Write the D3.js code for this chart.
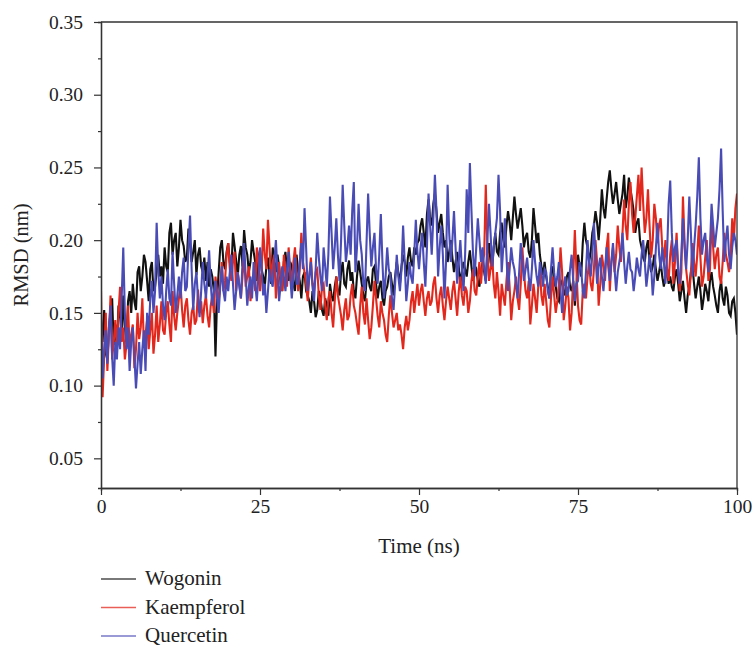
<!DOCTYPE html>
<html>
<head>
<meta charset="utf-8">
<script src="https://cdn.jsdelivr.net/npm/d3@7"></script>
<style>
	body { margin: 0; background: #fff; }
	text { font-family: "Liberation Serif", "Times New Roman", serif; fill: #222; }
</style>
</head>
<body>
<div id="chart"></div>
<script>

// time axis: 0 .. 100 ns, one value every 0.25 ns
var timeStep = 0.25;

var seriesNames = ["Wogonin", "Kaempferol", "Quercetin"];
var seriesColors = ["#111111", "#e2281d", "#4a4cb6"];

var wogonin = [
	0.145,0.130,0.152,0.122,0.118,0.140,0.150,0.160,0.128,0.142,
	0.125,0.155,0.148,0.135,0.162,0.140,0.130,0.158,0.165,0.150,
	0.170,0.158,0.152,0.178,0.182,0.165,0.175,0.190,0.185,0.172,
	0.158,0.180,0.185,0.165,0.168,0.178,0.190,0.175,0.182,0.170,
	// 10 ns
	0.195,0.182,0.178,0.205,0.212,0.190,0.200,0.205,0.182,0.195,
	0.214,0.200,0.196,0.185,0.188,0.208,0.198,0.185,0.192,0.200,
	0.176,0.190,0.195,0.182,0.178,0.188,0.172,0.185,0.168,0.180,
	0.175,0.165,0.120,0.160,0.178,0.195,0.200,0.185,0.180,0.192,
	// 20 ns
	0.198,0.185,0.180,0.205,0.196,0.186,0.175,0.190,0.196,0.182,
	0.207,0.195,0.190,0.178,0.185,0.200,0.192,0.185,0.172,0.188,
	0.193,0.180,0.175,0.168,0.182,0.188,0.175,0.170,0.195,0.185,
	0.178,0.190,0.182,0.170,0.165,0.185,0.192,0.178,0.172,0.185,
	// 30 ns
	0.182,0.170,0.165,0.190,0.178,0.172,0.160,0.175,0.178,0.165,
	0.162,0.158,0.150,0.165,0.158,0.147,0.152,0.165,0.160,0.152,
	0.148,0.160,0.155,0.148,0.170,0.162,0.158,0.168,0.175,0.165,
	0.162,0.178,0.185,0.170,0.168,0.180,0.186,0.172,0.178,0.165,
	// 40 ns
	0.160,0.175,0.186,0.178,0.170,0.162,0.158,0.172,0.175,0.168,
	0.165,0.180,0.182,0.170,0.160,0.168,0.172,0.160,0.155,0.165,
	0.168,0.175,0.178,0.170,0.162,0.175,0.185,0.178,0.170,0.182,
	0.190,0.185,0.175,0.188,0.195,0.185,0.182,0.195,0.190,0.198,
	// 50 ns
	0.200,0.210,0.215,0.205,0.195,0.218,0.228,0.215,0.210,0.225,
	0.232,0.220,0.205,0.212,0.218,0.205,0.195,0.200,0.185,0.192,
	0.200,0.188,0.178,0.185,0.192,0.182,0.170,0.178,0.185,0.180,
	0.175,0.185,0.193,0.182,0.172,0.178,0.180,0.172,0.168,0.178,
	// 60 ns
	0.185,0.178,0.172,0.190,0.198,0.185,0.180,0.195,0.205,0.192,
	0.190,0.205,0.212,0.200,0.195,0.210,0.220,0.212,0.200,0.215,
	0.230,0.218,0.208,0.215,0.222,0.210,0.195,0.202,0.205,0.192,
	0.188,0.200,0.222,0.210,0.198,0.205,0.190,0.182,0.176,0.185,
	// 70 ns
	0.175,0.168,0.160,0.178,0.182,0.170,0.168,0.160,0.158,0.170,
	0.172,0.165,0.162,0.175,0.178,0.168,0.165,0.172,0.155,0.168,
	0.190,0.182,0.175,0.198,0.212,0.200,0.195,0.185,0.192,0.205,
	0.210,0.220,0.212,0.200,0.215,0.235,0.222,0.215,0.228,0.240,
	// 80 ns
	0.248,0.235,0.225,0.232,0.240,0.228,0.218,0.225,0.232,0.245,
	0.222,0.230,0.243,0.235,0.228,0.220,0.205,0.212,0.215,0.200,
	0.195,0.188,0.185,0.195,0.200,0.185,0.178,0.182,0.190,0.180,
	0.172,0.178,0.185,0.175,0.168,0.175,0.180,0.170,0.175,0.168,
	// 90 ns
	0.165,0.175,0.180,0.170,0.158,0.165,0.172,0.160,0.150,0.162,
	0.168,0.178,0.182,0.170,0.160,0.168,0.175,0.165,0.152,0.160,
	0.170,0.165,0.158,0.172,0.178,0.168,0.162,0.155,0.150,0.165,
	0.172,0.160,0.155,0.168,0.162,0.150,0.148,0.158,0.160,0.150,
	0.135
];

var kaempferol = [
	0.165,0.092,0.120,0.150,0.110,0.135,0.162,0.118,0.130,0.145,
	0.125,0.150,0.168,0.130,0.140,0.118,0.128,0.155,0.125,0.135,
	0.142,0.112,0.125,0.150,0.132,0.140,0.160,0.128,0.135,0.145,
	0.125,0.138,0.150,0.122,0.135,0.155,0.130,0.142,0.158,0.138,
	// 10 ns
	0.135,0.150,0.158,0.142,0.130,0.165,0.148,0.138,0.150,0.160,
	0.170,0.152,0.140,0.155,0.160,0.145,0.135,0.150,0.155,0.142,
	0.145,0.166,0.150,0.158,0.143,0.155,0.162,0.148,0.140,0.155,
	0.162,0.150,0.175,0.165,0.158,0.170,0.185,0.165,0.172,0.190,
	// 20 ns
	0.198,0.180,0.172,0.185,0.192,0.165,0.178,0.170,0.160,0.175,
	0.190,0.168,0.175,0.182,0.158,0.170,0.175,0.165,0.195,0.185,
	0.165,0.178,0.208,0.190,0.180,0.214,0.195,0.172,0.185,0.190,
	0.160,0.175,0.185,0.170,0.165,0.190,0.178,0.168,0.195,0.180,
	// 30 ns
	0.170,0.185,0.195,0.178,0.165,0.180,0.205,0.185,0.178,0.170,
	0.158,0.175,0.188,0.170,0.165,0.178,0.180,0.162,0.152,0.168,
	0.170,0.155,0.145,0.160,0.165,0.150,0.140,0.158,0.175,0.162,
	0.155,0.148,0.138,0.152,0.160,0.145,0.148,0.162,0.170,0.155,
	// 40 ns
	0.150,0.142,0.135,0.155,0.168,0.150,0.142,0.160,0.145,0.132,
	0.140,0.155,0.172,0.160,0.148,0.140,0.158,0.150,0.145,0.135,
	0.130,0.148,0.162,0.150,0.140,0.145,0.150,0.138,0.142,0.135,
	0.125,0.140,0.148,0.138,0.145,0.158,0.165,0.150,0.160,0.170,
	// 50 ns
	0.155,0.165,0.170,0.158,0.148,0.160,0.165,0.155,0.158,0.170,
	0.175,0.160,0.150,0.162,0.168,0.155,0.145,0.158,0.168,0.160,
	0.152,0.165,0.172,0.160,0.148,0.165,0.175,0.162,0.155,0.168,
	0.165,0.150,0.158,0.172,0.180,0.165,0.162,0.175,0.185,0.170,
	// 60 ns
	0.185,0.190,0.238,0.195,0.172,0.180,0.190,0.170,0.160,0.178,
	0.165,0.148,0.170,0.162,0.155,0.172,0.185,0.168,0.145,0.158,
	0.165,0.175,0.160,0.152,0.170,0.195,0.178,0.165,0.160,0.172,
	0.142,0.155,0.170,0.160,0.150,0.168,0.180,0.162,0.155,0.170,
	// 70 ns
	0.158,0.145,0.140,0.160,0.175,0.162,0.150,0.158,0.170,0.195,
	0.178,0.145,0.155,0.168,0.160,0.138,0.150,0.175,0.207,0.180,
	0.155,0.145,0.142,0.165,0.170,0.160,0.175,0.185,0.170,0.165,
	0.180,0.200,0.185,0.155,0.170,0.190,0.182,0.172,0.195,0.205,
	// 80 ns
	0.165,0.185,0.195,0.178,0.190,0.210,0.195,0.185,0.205,0.228,
	0.210,0.200,0.225,0.240,0.218,0.205,0.215,0.230,0.245,0.220,
	0.250,0.225,0.205,0.215,0.235,0.210,0.188,0.200,0.225,0.215,
	0.198,0.210,0.215,0.195,0.185,0.200,0.180,0.172,0.190,0.200,
	// 90 ns
	0.170,0.185,0.205,0.180,0.165,0.178,0.230,0.200,0.180,0.170,
	0.162,0.178,0.198,0.185,0.175,0.190,0.210,0.188,0.168,0.175,
	0.188,0.200,0.172,0.180,0.215,0.195,0.180,0.190,0.195,0.175,
	0.170,0.185,0.205,0.190,0.185,0.178,0.190,0.215,0.200,0.222,
	0.232
];

var quercetin = [
	0.150,0.105,0.125,0.138,0.115,0.140,0.155,0.120,0.100,0.130,
	0.118,0.140,0.125,0.160,0.195,0.150,0.125,0.140,0.110,0.130,
	0.140,0.120,0.098,0.115,0.130,0.108,0.125,0.138,0.110,0.150,
	0.135,0.160,0.172,0.150,0.165,0.212,0.180,0.160,0.175,0.155,
	// 10 ns
	0.145,0.165,0.180,0.160,0.155,0.192,0.170,0.150,0.162,0.175,
	0.160,0.178,0.188,0.165,0.168,0.195,0.217,0.180,0.152,0.170,
	0.178,0.160,0.147,0.165,0.185,0.170,0.160,0.175,0.193,0.170,
	0.155,0.165,0.172,0.160,0.150,0.168,0.182,0.165,0.158,0.175,
	// 20 ns
	0.165,0.178,0.190,0.170,0.152,0.165,0.178,0.168,0.160,0.185,
	0.198,0.175,0.155,0.168,0.175,0.160,0.185,0.170,0.158,0.175,
	0.195,0.180,0.162,0.170,0.150,0.165,0.180,0.172,0.168,0.185,
	0.200,0.178,0.158,0.170,0.182,0.175,0.165,0.180,0.192,0.175,
	// 30 ns
	0.160,0.175,0.188,0.170,0.170,0.185,0.198,0.180,0.222,0.195,
	0.165,0.175,0.185,0.168,0.158,0.180,0.205,0.188,0.175,0.165,
	0.195,0.182,0.168,0.190,0.230,0.205,0.180,0.195,0.215,0.190,
	0.172,0.200,0.238,0.210,0.185,0.195,0.210,0.190,0.220,0.240,
	// 40 ns
	0.178,0.195,0.225,0.200,0.190,0.170,0.165,0.198,0.232,0.205,
	0.182,0.195,0.205,0.180,0.170,0.190,0.218,0.185,0.160,0.175,
	0.195,0.180,0.175,0.160,0.152,0.170,0.190,0.175,0.165,0.180,
	0.210,0.185,0.158,0.170,0.185,0.175,0.170,0.190,0.214,0.192,
	// 50 ns
	0.180,0.195,0.205,0.185,0.168,0.195,0.232,0.210,0.190,0.215,
	0.245,0.220,0.175,0.195,0.210,0.190,0.160,0.185,0.238,0.205,
	0.185,0.200,0.220,0.195,0.170,0.185,0.200,0.180,0.165,0.190,
	0.235,0.205,0.253,0.220,0.190,0.175,0.195,0.215,0.200,0.185,
	// 60 ns
	0.195,0.180,0.170,0.200,0.225,0.205,0.182,0.195,0.205,0.215,
	0.245,0.220,0.178,0.195,0.215,0.190,0.165,0.180,0.195,0.185,
	0.180,0.170,0.160,0.178,0.198,0.185,0.172,0.180,0.188,0.175,
	0.165,0.180,0.200,0.185,0.175,0.168,0.185,0.178,0.168,0.180,
	// 70 ns
	0.178,0.165,0.160,0.180,0.195,0.178,0.168,0.175,0.185,0.165,
	0.150,0.168,0.175,0.162,0.165,0.180,0.190,0.172,0.158,0.170,
	0.172,0.185,0.180,0.165,0.160,0.178,0.200,0.185,0.175,0.190,
	0.212,0.190,0.170,0.182,0.188,0.175,0.165,0.180,0.195,0.182,
	// 80 ns
	0.172,0.185,0.198,0.180,0.165,0.178,0.185,0.192,0.205,0.185,
	0.170,0.182,0.192,0.180,0.178,0.165,0.175,0.188,0.180,0.175,
	0.190,0.200,0.185,0.168,0.178,0.190,0.182,0.162,0.175,0.195,
	0.212,0.190,0.180,0.195,0.185,0.170,0.190,0.225,0.241,0.205,
	// 90 ns
	0.185,0.195,0.200,0.178,0.170,0.190,0.215,0.195,0.180,0.200,
	0.230,0.205,0.175,0.195,0.210,0.230,0.257,0.215,0.190,0.200,
	0.205,0.188,0.178,0.195,0.225,0.210,0.195,0.205,0.215,0.235,
	0.263,0.220,0.185,0.200,0.210,0.190,0.180,0.195,0.205,0.200,
	0.190
];

var yTicks = [0.05, 0.10, 0.15, 0.20, 0.25, 0.30, 0.35];
var yMinor = [0.075, 0.125, 0.175, 0.225, 0.275, 0.325];
var xTicks = [0, 25, 50, 75, 100];
var xMinor = [12.5, 37.5, 62.5, 87.5];

var margin = {top: 22, right: 16, bottom: 158, left: 101};
var width = 753 - margin.left - margin.right;
var height = 646 - margin.top - margin.bottom;

var svg = d3.select("#chart").append("svg")
	.attr("width", 753)
	.attr("height", 646);

var g = svg.append("g")
	.attr("transform", "translate(" + margin.left + "," + margin.top + ")");

var x = d3.scaleLinear().domain([0, 100]).range([0, width]);
var y = d3.scaleLinear().domain([0.0296, 0.35]).range([height, 0]);

var line = d3.line()
	.x(function(d, i) { return x(i * timeStep); })
	.y(function(d) { return y(d); });

var allSeries = [wogonin, kaempferol, quercetin];

g.append("clipPath").attr("id", "clip")
	.append("rect").attr("width", width).attr("height", height);

// black first so blue ends up on top
g.append("g").attr("clip-path", "url(#clip)")
	.selectAll("path")
	.data(allSeries)
	.enter().append("path")
	.attr("fill", "none")
	.attr("stroke", function(d, i) { return seriesColors[i]; })
	.attr("stroke-width", 2.1)
	.attr("d", line);

var yAxisMinor = g.append("g")
	.call(d3.axisLeft(y).tickValues(yMinor).tickSize(3).tickFormat(""));
var xAxisMinor = g.append("g")
	.attr("transform", "translate(0," + height + ")")
	.call(d3.axisBottom(x).tickValues(xMinor).tickSize(3).tickFormat(""));

var yAxis = g.append("g")
	.call(d3.axisLeft(y).tickValues(yTicks).tickSize(7).tickSizeOuter(0).tickFormat(d3.format(".2f")).tickPadding(11));

var xAxis = g.append("g")
	.attr("transform", "translate(0," + height + ")")
	.call(d3.axisBottom(x).tickValues(xTicks).tickSize(7).tickSizeOuter(0).tickPadding(4));

[yAxis, xAxis, yAxisMinor, xAxisMinor].forEach(function(a) {
	a.selectAll("path").attr("stroke", "#333").attr("stroke-width", 1.3);
	a.selectAll("line").attr("stroke", "#333").attr("stroke-width", 1.2);
	a.selectAll("text").style("font-family", "'Liberation Serif', serif").style("font-size", "19.5px").attr("fill", "#222");
});

// top and right frame
g.append("path")
	.attr("d", "M0,0H" + width + "V" + height)
	.attr("fill", "none")
	.attr("stroke", "#333")
	.attr("stroke-width", 1.3);

// axis titles
g.append("text")
	.attr("x", width / 2)
	.attr("y", height + 65)
	.attr("text-anchor", "middle")
	.style("font-size", "21px")
	.text("Time (ns)");

g.append("text")
	.attr("transform", "rotate(-90)")
	.attr("x", -233)
	.attr("y", -73)
	.attr("text-anchor", "middle")
	.style("font-size", "20.5px")
	.text("RMSD (nm)");

// legend
var legend = svg.append("g")
	.attr("transform", "translate(101,579)");

var item = legend.selectAll("g")
	.data(seriesNames)
	.enter().append("g")
	.attr("transform", function(d, i) { return "translate(0," + (i * 28.5) + ")"; });

item.append("line")
	.attr("x1", 0).attr("x2", 35)
	.attr("stroke", function(d, i) { return d3.interpolateRgb(seriesColors[i], "#fff")(0.25); })
	.attr("stroke-width", 1.5);

item.append("text")
	.attr("x", 44)
	.attr("y", 6)
	.style("font-size", "21px")
	.text(function(d) { return d; });

</script>
</body>
</html>
